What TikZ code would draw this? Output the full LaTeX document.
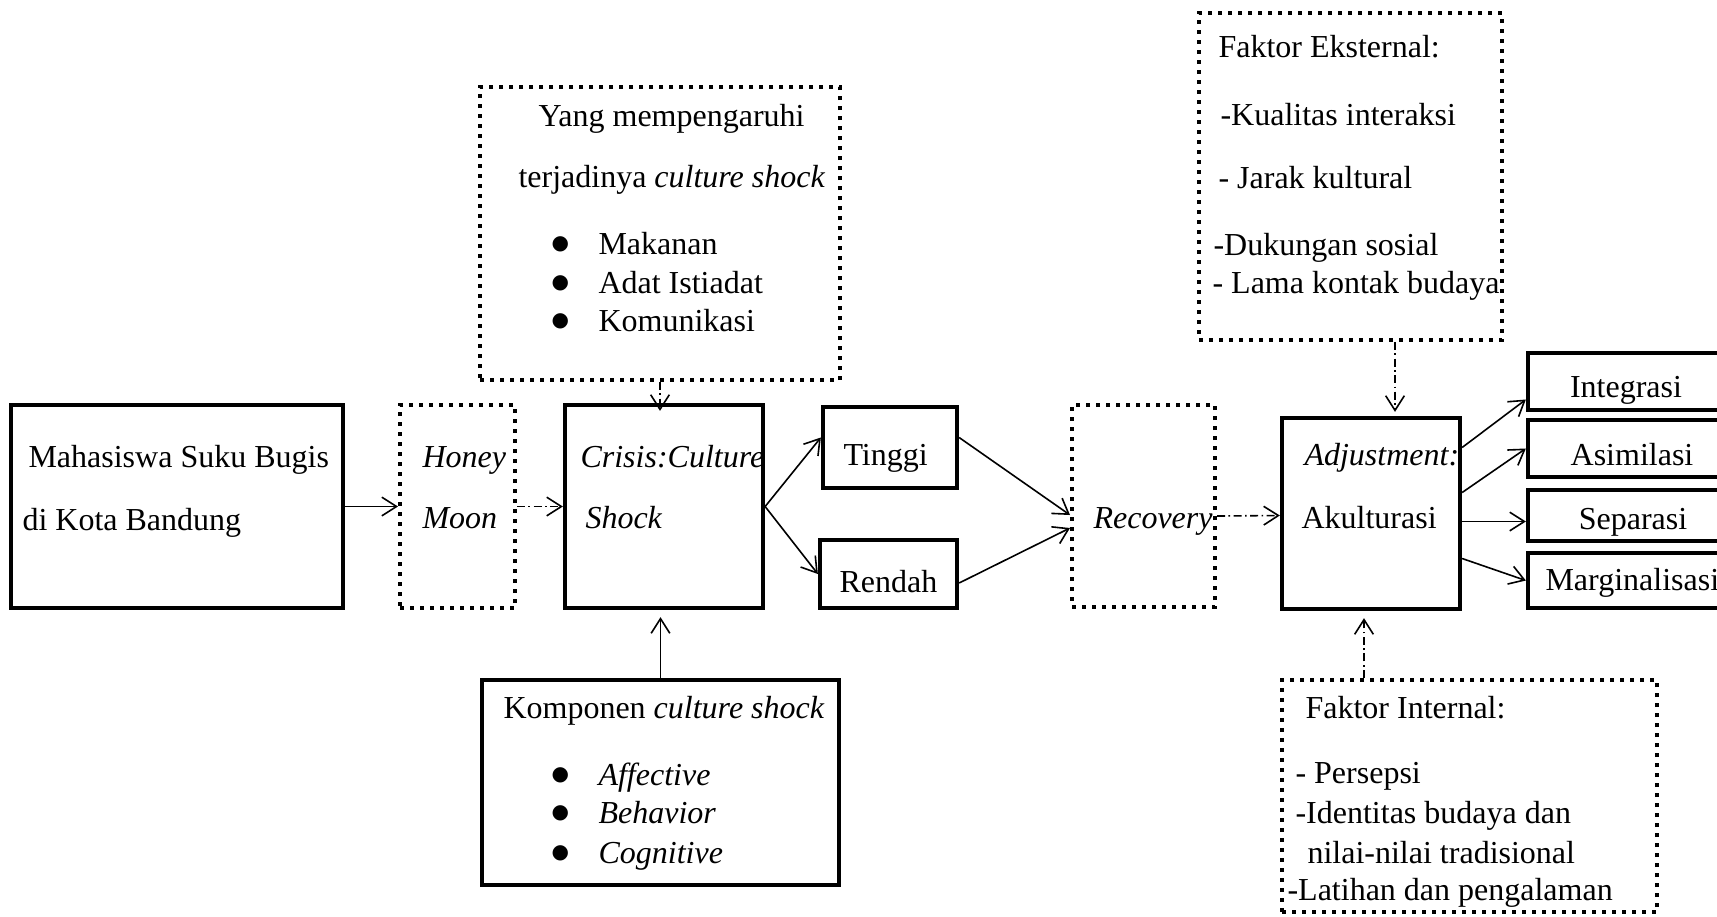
\documentclass[tikz,border=0pt]{standalone}
\usepackage{fontspec}
\setmainfont{Liberation Serif}
\newfontfamily\symfont{DejaVu Sans}
\usetikzlibrary{arrows.meta,fit,calc}

\begin{document}
\begin{tikzpicture}[x=0.375pt,y=-0.375pt,font=\fontsize{12}{14}\selectfont]
\tikzset{solidbox/.style={draw,line width=1.6pt,inner sep=0pt}}
\tikzset{dotbox/.style={draw,line width=1.5pt,dash pattern=on 1.5pt off 2.25pt,inner sep=0pt}}
\tikzset{arr/.style={-{Straight Barb[length=5.5pt,width=7pt]},line width=0.6pt}}
\tikzset{dasharr/.style={arr,dash pattern=on 3pt off 1.3pt on 0.6pt off 1.3pt}}
\tikzset{txt/.style={anchor=base west,inner sep=0pt}}
\tikzset{dot/.style={anchor=base west,inner sep=0pt,font=\symfont\fontsize{7.5}{9}\selectfont}}
\useasboundingbox (0,0) rectangle (1717,916);

\node[solidbox,fit={(11,405) (343,608)}] (mhs) {};
\node[dotbox,fit={(400,405) (515,608)}] (honey) {};
\node[solidbox,fit={(565,405) (763,608)}] (crisis) {};
\node[dotbox,fit={(480,87) (840,380)}] (pengaruh) {};
\node[solidbox,fit={(482,680) (839,885)}] (komponen) {};
\node[solidbox,fit={(823,407) (957,488)}] (tinggi) {};
\node[solidbox,fit={(820,540) (957,608)}] (rendah) {};
\node[dotbox,fit={(1072,405) (1215,607)}] (recovery) {};
\node[solidbox,fit={(1282,418) (1460,609)}] (adjust) {};
\node[dotbox,fit={(1199,13) (1502,340)}] (eksternal) {};
\node[dotbox,fit={(1282,680) (1657,912)}] (internal) {};
\node[solidbox,fit={(1528,353) (1745,410)}] (integrasi) {};
\node[solidbox,fit={(1528,420) (1745,477)}] (asimilasi) {};
\node[solidbox,fit={(1528,490) (1745,541)}] (separasi) {};
\node[solidbox,fit={(1528,553) (1745,608)}] (marginal) {};

\node[txt] (mhs-a) at (28,467) {Mahasiswa Suku Bugis};
\node[txt] (mhs-b) at (22,530) {di Kota Bandung};
\node[txt] (honey-a) at (422,467) {\textit{Honey}};
\node[txt] (honey-b) at (422,528) {\textit{Moon}};
\node[txt] (crisis-a) at (580,467) {\textit{Crisis:Culture}};
\node[txt] (crisis-b) at (585,528) {\textit{Shock}};
\node[txt] (tinggi-a) at (843,465) {Tinggi};
\node[txt] (rendah-a) at (839,592) {Rendah};
\node[txt] (recovery-a) at (1093,528) {\textit{Recovery}};
\node[txt] (adjust-a) at (1304,465) {\textit{Adjustment:}};
\node[txt] (adjust-b) at (1301,528) {Akulturasi};
\node[anchor=base,inner sep=0pt] (integrasi-a) at (1626,397) {Integrasi};
\node[anchor=base,inner sep=0pt] (asimilasi-a) at (1632,465) {Asimilasi};
\node[anchor=base,inner sep=0pt] (separasi-a) at (1633,529) {Separasi};
\node[txt] (marginal-a) at (1545,590) {Marginalisasi};

\node[txt] (pengaruh-a) at (538,126) {Yang mempengaruhi};
\node[txt] (pengaruh-b) at (518,187) {terjadinya \textit{culture shock}};
\foreach \y/\lbl [count=\i] in {254/Makanan,293/Adat Istiadat,331/Komunikasi} {
  \node[dot] (pengaruh-dot\i) at (551,\y) {\raisebox{1.7pt}{●}};
  \node[txt] (pengaruh-item\i) at (598,\y) {\lbl};
}
\node[txt] (komponen-a) at (503,718) {Komponen \textit{culture shock}};
\foreach \y/\lbl [count=\i] in {785/Affective,823/Behavior,863/Cognitive} {
  \node[dot] (komponen-dot\i) at (551,\y) {\raisebox{1.7pt}{●}};
  \node[txt] (komponen-item\i) at (598,\y) {\textit{\lbl}};
}

\node[txt] (eksternal-a) at (1218,57) {Faktor Eksternal:};
\node[txt] (eksternal-b) at (1220,125) {-Kualitas interaksi};
\node[txt] (eksternal-c) at (1218,188) {- Jarak kultural};
\node[txt] (eksternal-d) at (1213,255) {-Dukungan sosial};
\node[txt] (eksternal-e) at (1212,293) {- Lama kontak budaya};

\node[txt] (internal-a) at (1305,718) {Faktor Internal:};
\node[txt] (internal-b) at (1295,783) {- Persepsi};
\node[txt] (internal-c) at (1295,823) {-Identitas budaya dan};
\node[txt] (internal-d) at (1307,863) {nilai-nilai tradisional};
\node[txt] (internal-e) at (1287,900) {-Latihan dan pengalaman};

\draw[arr] (mhs.east) -- (honey.west);
\draw[dasharr] (honey.east) -- (crisis.west);
\draw[dasharr] (pengaruh.south) -- ($(pengaruh.south |- crisis.north)+(0,8)$);
\draw[arr] (komponen.north) -- ($(komponen.north |- crisis.south)+(0,7)$);
\draw[arr] (crisis.east) -- ($(tinggi.west)+(0,-10)$);
\draw[arr] (crisis.east) -- (rendah.west);
\draw[arr] ($(tinggi.east)+(0,-10)$) -- ($(recovery.west)+(0,9)$);
\draw[arr] ($(rendah.east)+(0,9)$) -- ($(recovery.west)+(0,22)$);
\draw[dasharr] ($(recovery.east)+(0,10)$) -- ($(adjust.west)+(0,2)$);
\coordinate (eksternal-tip) at ($(adjust.north)+(24,-4)$);
\coordinate (internal-tip) at ($(adjust.south)+(-7,7)$);
\draw[dasharr] (eksternal.south -| eksternal-tip) -- (eksternal-tip);
\draw[dasharr] (internal.north -| internal-tip) -- (internal-tip);
\draw[arr] ($(adjust.east)+(0,-66)$) -- ($(integrasi.west)+(0,18)$);
\draw[arr] ($(adjust.east)+(0,-21)$) -- (asimilasi.west);
\draw[arr] ($(adjust.east)+(0,8)$) -- ($(separasi.west)+(0,6)$);
\draw[arr] ($(adjust.east)+(0,45)$) -- (marginal.west);
\end{tikzpicture}
\end{document}
